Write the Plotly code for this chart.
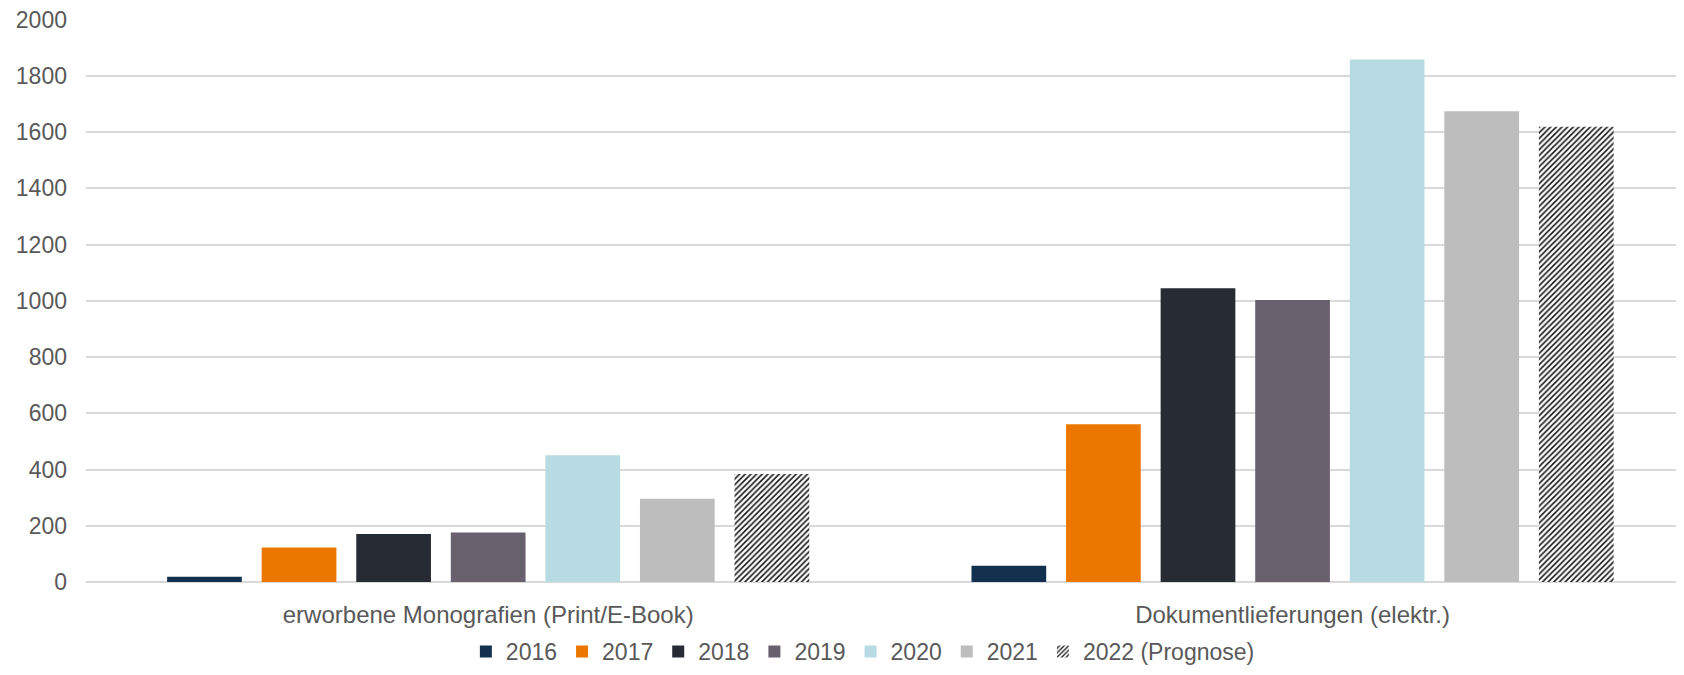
import plotly.graph_objects as go

# Kategorien und Werte
categories = ["erworbene Monografien (Print/E-Book)", "Dokumentlieferungen (elektr.)"]
years = ["2016", "2017", "2018", "2019", "2020", "2021", "2022 (Prognose)"]
monografien = [19, 123, 171, 176, 451, 296, 384]
dokumente = [58, 561, 1045, 1003, 1858, 1674, 1619]
y_ticks = [0, 200, 400, 600, 800, 1000, 1200, 1400, 1600, 1800, 2000]

colors = ["#14304f", "#ec7700", "#272b33", "#69606e", "#b8dae2", "#bdbdbd", "#ffffff"]
text_color = "#595959"

fig = go.Figure()
for i, year in enumerate(years):
    marker = dict(color=colors[i], line=dict(width=0))
    if i == len(years) - 1:
        # Prognose: schraffiert
        marker["pattern"] = dict(shape="/", fgcolor="#1a1a1a", bgcolor="#ffffff",
                                 size=4, solidity=0.4, fillmode="replace")
    fig.add_trace(go.Bar(
        name=year,
        x=categories,
        y=[monografien[i], dokumente[i]],
        marker=marker,
    ))

# Seite hat 8px Rand -> Figur etwas kleiner, Ränder fest
fig.update_layout(
    width=1668,
    height=659,
    barmode="group",
    bargap=0.177,
    bargroupgap=0.21,
    paper_bgcolor="white",
    plot_bgcolor="white",
    font=dict(family="Liberation Sans, Arial, sans-serif", size=23, color=text_color),
    margin=dict(l=78, r=0, t=11, b=85, autoexpand=False),
    legend=dict(
        orientation="h",
        x=0.4886,
        xanchor="center",
        y=-0.1235,
        yanchor="middle",
        font=dict(size=23, color=text_color),
        itemwidth=30,
        traceorder="normal",
    ),
)

fig.update_xaxes(
    range=[-0.5, 1.4767],
    showgrid=False,
    showline=False,
    ticks="",
    tickfont=dict(size=24),
    ticklabelstandoff=16,
)
fig.update_yaxes(
    range=[0, 2002],
    tickvals=y_ticks,
    showgrid=True,
    gridcolor="#d9d9d9",
    gridwidth=1.5,
    zeroline=True,
    zerolinecolor="#d9d9d9",
    zerolinewidth=1.5,
    showline=False,
    ticks="",
    ticklabelstandoff=18,
    ticklabeloverflow="allow",
)

fig.write_html("out.html")
